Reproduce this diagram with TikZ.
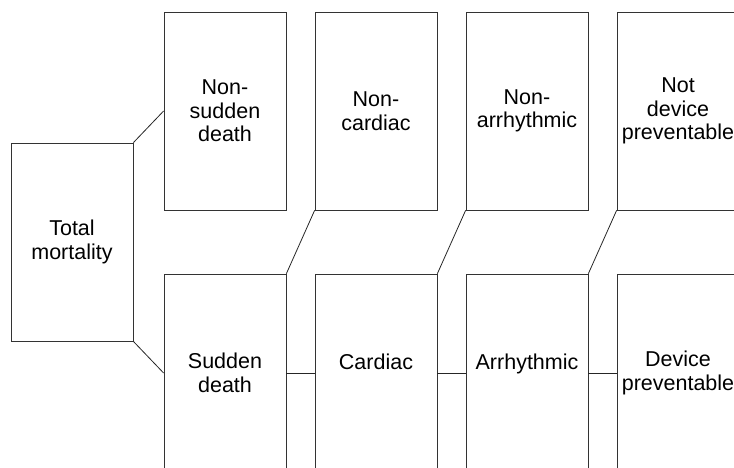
\documentclass[tikz,border=0pt]{standalone}
\usepackage{fontspec}
\setmainfont{Liberation Sans}
\begin{document}
\begin{tikzpicture}[x=1pt,y=-1pt,
  box/.style={draw=black!80,line width=0.8pt,rectangle,minimum width=122pt,minimum height=198pt,
    inner sep=0pt,align=center,font=\fontsize{21.5}{23.5}\selectfont},
  link/.style={draw=black!85,line width=0.8pt}]
\useasboundingbox (0,0) rectangle (734,467);
\clip (0,0) rectangle (734,467);
\node[box] (tm) at (72,242) {Total\\mortality};
\node[box] (ns) at (225,111) {Non-\\sudden\\death};
\node[box] (nc) at (376,111) {Non-\\cardiac};
\node[box] (na) at (527,111) {Non-\\arrhythmic};
\node[box] (nd) at (678,111) {Not\\device\\preventable};
\node[box] (sd) at (225,373) {Sudden\\death};
\node[box] (ca) at (376,373) {Cardiac\\\mbox{}};
\node[box] (ar) at (527,373) {Arrhythmic\\\mbox{}};
\node[box] (dp) at (678,373) {Device\\preventable};
\draw[link] (tm.north east) -- (ns.west);
\draw[link] (tm.south east) -- (sd.west);
\draw[link] (sd.north east) -- (nc.south west);
\draw[link] (ca.north east) -- (na.south west);
\draw[link] (ar.north east) -- (nd.south west);
\draw[link] (sd.east) -- (ca.west);
\draw[link] (ca.east) -- (ar.west);
\draw[link] (ar.east) -- (dp.west);
\end{tikzpicture}
\end{document}
